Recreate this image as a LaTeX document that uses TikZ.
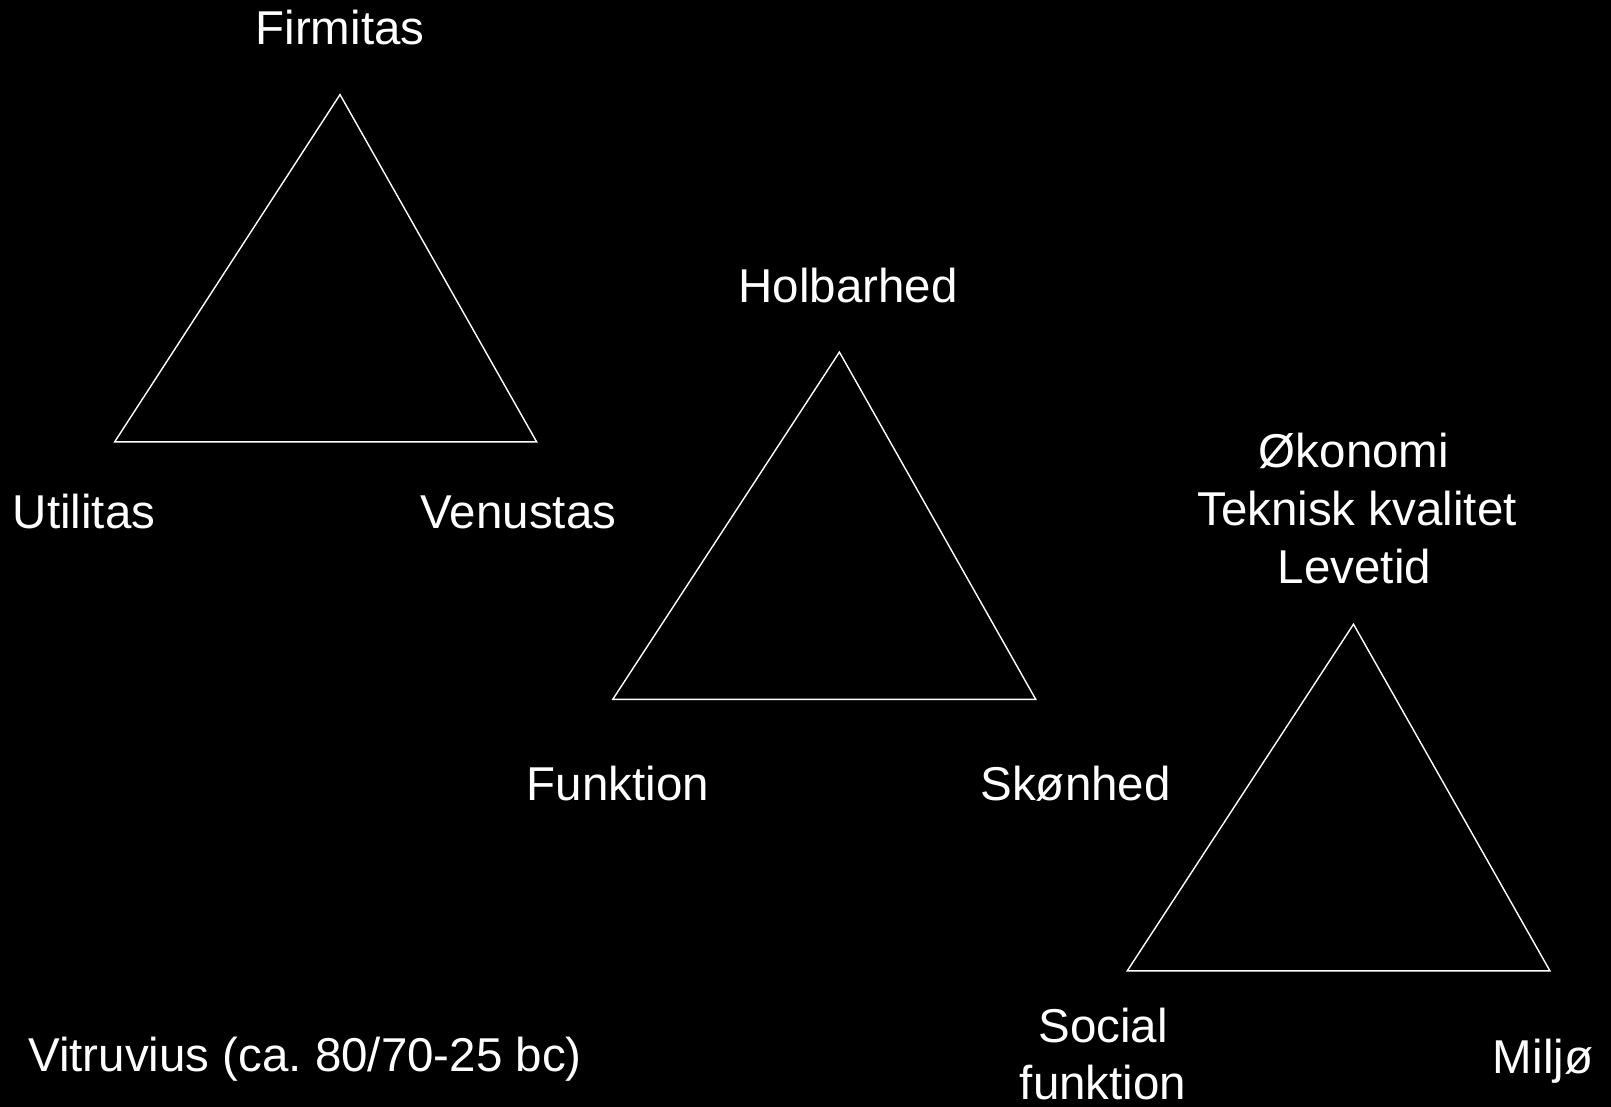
\documentclass[tikz,border=0pt]{standalone}
\usepackage{fontspec}
\setmainfont{Liberation Sans}
\usepackage{tikz}

\tikzset{
  lbl/.style={text=white, inner sep=0pt, anchor=base, font=\fontsize{47.5}{57}\selectfont},
  tri/.style={draw=white, line width=1.4pt, line join=miter}
}

\begin{document}
\begin{tikzpicture}[x=1pt,y=-1pt]
\fill[black] (0,0) rectangle (1611,1107);

% Vitruvius
\coordinate (t1a) at (340,94.6);
\coordinate (t1l) at (114.7,441.8);
\coordinate (t1r) at (536.6,441.8);
\draw[tri] (t1a) -- (t1l) -- (t1r) -- cycle;
\node[lbl] (firmitas) at (340,44.6) {Firmitas};
\node[lbl] (utilitas) at (84,528) {Utilitas};
\node[lbl] (venustas) at (518.5,528) {Venustas};

% holbarhed
\coordinate (t2a) at (839.4,352.1);
\coordinate (t2l) at (612.8,699.3);
\coordinate (t2r) at (1035.7,699.3);
\draw[tri] (t2a) -- (t2l) -- (t2r) -- cycle;
\node[lbl] (holbarhed) at (848,302.9) {Holbarhed};
\node[lbl] (funktion) at (618,800) {Funktion};
\node[lbl] (skonhed) at (1075.6,800) {Skønhed};

% baeredygtighed
\coordinate (t3a) at (1353.5,624.2);
\coordinate (t3l) at (1127.3,970.8);
\coordinate (t3r) at (1549.9,970.8);
\draw[tri] (t3a) -- (t3l) -- (t3r) -- cycle;
\node[lbl] (okonomi) at (1354,467.3) {Økonomi};
\node[lbl] (teknisk) at (1357,525.2) {Teknisk kvalitet};
\node[lbl] (levetid) at (1354.5,583) {Levetid};
\node[lbl, align=center] (social) at (1103,1099.5) {Social\\funktion};
\node[lbl] (miljo) at (1543,1073.8) {Miljø};

\node[lbl] (vitruvius) at (305,1071.7) {Vitruvius (ca.\ 80/70-25 bc)};
\end{tikzpicture}
\end{document}
